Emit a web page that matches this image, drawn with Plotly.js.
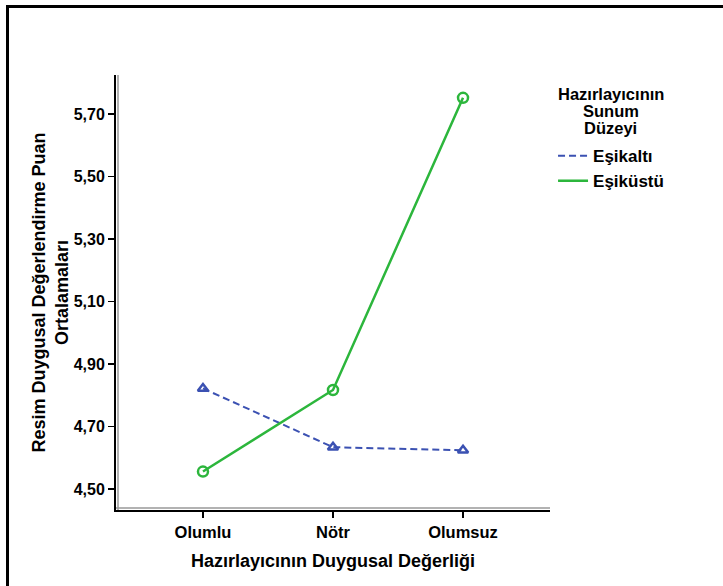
<!DOCTYPE html>
<html>
<head>
<meta charset="utf-8">
<script src="https://cdn.plot.ly/plotly-3.0.1.min.js"></script>
<style>
html,body{margin:0;padding:0;background:#fff;}
#wrap{position:relative;width:723px;height:586px;overflow:hidden;}
#chart{position:absolute;left:0;top:0;width:723px;height:586px;}
#frame{position:absolute;left:6px;top:5px;width:800px;height:700px;border-left:3px solid #000;border-top:3px solid #000;pointer-events:none;}
</style>
</head>
<body>
<div id="wrap"><div id="chart"></div><div id="frame"></div></div>
<script>
const categories = ["Olumlu", "Nötr", "Olumsuz"];
const seriesNames = ["Eşikaltı", "Eşiküstü"];
const legendTitleLines = ["Hazırlayıcının", "Sunum", "Düzeyi"];
const esikalti = [4.822, 4.634, 4.624];
const esikustu = [4.556, 4.817, 5.752];
const yTickVals = [4.5, 4.7, 4.9, 5.1, 5.3, 5.5, 5.7];

const blue = "#3b51b2";
const green = "#2cb63c";
const font = "Liberation Sans, Arial, sans-serif";

const traces = [
  {x: categories, y: esikalti, name: seriesNames[0], mode: "lines", type: "scatter",
   line: {color: blue, width: 2, dash: "7px,4px"}, legendrank: 1},
  {x: categories, y: esikustu, name: seriesNames[1], mode: "lines", type: "scatter",
   line: {color: green, width: 2.5}, legendrank: 2},
  {x: categories, y: esikalti, mode: "markers", type: "scatter", showlegend: false,
   marker: {symbol: "triangle-up-open", size: 9, color: blue, line: {width: 2.5, color: blue}}},
  {x: categories, y: esikustu, mode: "markers", type: "scatter", showlegend: false,
   marker: {symbol: "circle-open", size: 10, color: green, line: {width: 2.5, color: green}}}
];

const titleY = [0.9563, 0.9172, 0.8782];
const annotations = legendTitleLines.map((t, i) => ({
  text: t, xref: "paper", yref: "paper", x: 1.14, y: titleY[i],
  xanchor: "center", yanchor: "middle", showarrow: false,
  font: {size: 16.5, weight: "bold", family: font}
}));

const layout = {
  width: 723, height: 586,
  margin: {l: 116, r: 173, t: 75, b: 76},
  paper_bgcolor: "#fff", plot_bgcolor: "#fff",
  separators: ",.",
  font: {family: font, color: "#000"},
  showlegend: true,
  legend: {
    x: 1.007, xanchor: "left", y: 0.855, yanchor: "top",
    font: {size: 17, weight: "bold", family: font},
    itemwidth: 30, tracegroupgap: 0
  },
  annotations: annotations,
  xaxis: {
    type: "category", range: [-0.669, 2.669],
    showgrid: false, zeroline: false,
    showline: true, linecolor: "#000", linewidth: 2,
    ticks: "outside", ticklen: 6, tickwidth: 1.5, tickcolor: "#000",
    tickfont: {size: 16.5, weight: "bold", family: font},
    title: {text: "Hazırlayıcının Duygusal Değerliği", standoff: 15,
            font: {size: 18, weight: "bold", family: font}},
    fixedrange: true
  },
  yaxis: {
    range: [4.433, 5.825],
    tickvals: yTickVals, tickformat: ".2f",
    showgrid: false, zeroline: false,
    showline: true, linecolor: "#000", linewidth: 2,
    ticks: "outside", ticklen: 6, tickwidth: 1.5, tickcolor: "#000",
    tickfont: {size: 16, weight: "bold", family: font},
    title: {text: "Resim Duygusal Değerlendirme Puan<br>Ortalamaları", standoff: 0,
            font: {size: 18, weight: "bold", family: font}},
    fixedrange: true
  },
  shapes: [
    {type: "line", xref: "paper", yref: "paper", xsizemode: "pixel", xanchor: 0,
     x0: 2, x1: 2, y0: 0, y1: 1, line: {color: "#999", width: 1.5}},
    {type: "line", xref: "paper", yref: "paper", ysizemode: "pixel", yanchor: 0,
     y0: 2, y1: 2, x0: 0, x1: 1, line: {color: "#999", width: 1.5}}
  ]
};

Plotly.newPlot("chart", traces, layout, {displayModeBar: false, staticPlot: true});
</script>
</body>
</html>
